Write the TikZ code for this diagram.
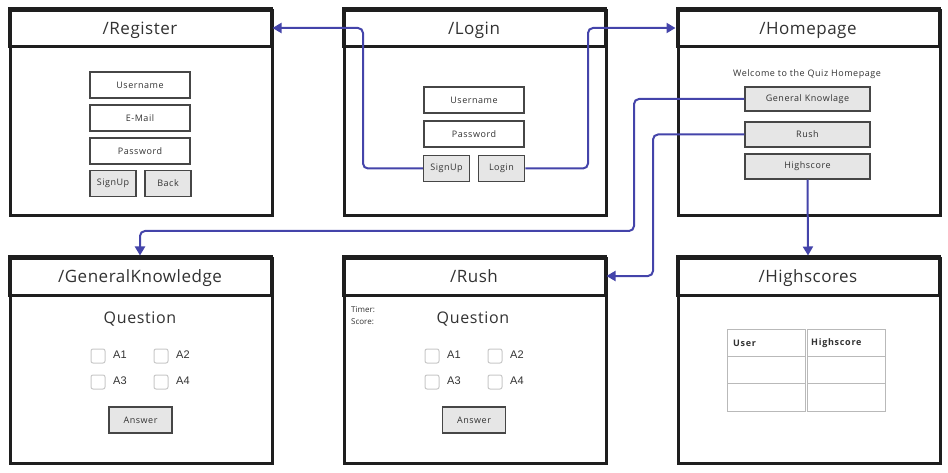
\documentclass[tikz,border=0pt]{standalone}
\usepackage{fontspec}
\setmainfont{Open Sans}
\newfontfamily\arialfont{Liberation Sans}
\newfontfamily\smallspaced[LetterSpace=6]{Open Sans}
\newfontfamily\boldspaced[LetterSpace=8]{Open Sans}
\newfontfamily\bigspaced[LetterSpace=3]{Open Sans}
\newfontfamily\qspaced[LetterSpace=4]{Open Sans}
\usetikzlibrary{arrows.meta}
\definecolor{conncol}{RGB}{68,68,170}
\definecolor{winline}{RGB}{30,30,30}
\definecolor{txt}{RGB}{50,50,50}
\definecolor{btnfill}{RGB}{230,230,230}
\definecolor{boxline}{RGB}{70,70,70}
\definecolor{cbline}{RGB}{200,200,200}
\definecolor{tabline}{RGB}{185,185,185}
\tikzset{
  winbody/.style={draw=winline, line width=3pt, fill=white, minimum width=262pt, minimum height=205pt, anchor=north west, inner sep=0pt},
  winhead/.style={draw=winline, line width=3pt, minimum width=262pt, minimum height=38pt, inner sep=0pt, text height=14pt, text depth=1pt, text=txt, font=\bigspaced\fontsize{17}{20}\selectfont},
  field/.style={draw=boxline, line width=1.5pt, minimum width=100pt, minimum height=26pt, inner sep=0pt, text=txt, font=\smallspaced\fontsize{9}{11}\selectfont},
  btn/.style={field, fill=btnfill, minimum width=46pt},
  hbtn/.style={field, fill=btnfill, minimum width=125pt, minimum height=24pt},
  cbox/.style={draw=cbline, line width=1pt, rounded corners=2pt, minimum size=14pt, inner sep=0pt},
  albl/.style={anchor=west, inner sep=0pt, text=txt, font=\arialfont\fontsize{11}{13}\selectfont},
  qlbl/.style={text=txt, font=\qspaced\fontsize{16}{19}\selectfont},
  cell/.style={draw=tabline, line width=1pt, minimum width=78pt, minimum height=27.3pt, inner sep=0pt},
  celltxt/.style={anchor=west, inner sep=0pt, text=txt, font=\boldspaced\bfseries\fontsize{9}{11}\selectfont},
  small/.style={anchor=west, inner sep=0pt, text=txt, font=\fontsize{8}{10}\selectfont},
  conn/.style={draw=conncol, line width=2pt, rounded corners=5pt, -{Triangle[length=9pt,width=10pt]}},
}
\begin{document}
\begin{tikzpicture}[x=1pt,y=-1pt]
\useasboundingbox (0,0) rectangle (948,473);
% windows
\node[winbody] (reg) at (9,9) {};
\node[winhead] (regT) at (140,28) {/Register};
\node[winbody] (login) at (343,9) {};
\node[winhead] (loginT) at (474,28) {/Login};
\node[winbody] (home) at (677,9) {};
\node[winhead] (homeT) at (808,28) {/Homepage};
\node[winbody] (gk) at (9,257) {};
\node[winhead] (gkT) at (140,276) {/GeneralKnowledge};
\node[winbody] (rush) at (343,257) {};
\node[winhead] (rushT) at (474,276) {/Rush};
\node[winbody] (hs) at (677,257) {};
\node[winhead] (hsT) at (808,276) {/Highscores};
% register
\node[field] (ruser) at (140,85) {Username};
\node[field] (rmail) at (140,118) {E-Mail};
\node[field] (rpass) at (140,151) {Password};
\node[btn] (rsign) at (113,183.5) {SignUp};
\node[btn] (rback) at (168,183.5) {Back};
% login
\node[field] (luser) at (474,100) {Username};
\node[field] (lpass) at (474,134) {Password};
\node[btn] (lsign) at (446.5,168.5) {SignUp};
\node[btn] (llog) at (501.5,168.5) {Login};
% homepage
\node[text=txt, font=\smallspaced\fontsize{9}{11}\selectfont] (welcome) at (807,74) {Welcome to the Quiz Homepage};
\node[hbtn] (hgk) at (807.5,99) {General Knowlage};
\node[hbtn, minimum height=25pt] (hrush) at (807.5,134.5) {Rush};
\node[hbtn, minimum height=25pt] (hhs) at (807.5,166.5) {Highscore};
% general knowledge
\node[qlbl] (gkq) at (140,319) {Question};
\node[cbox] (gkc1) at (98,356) {};
\node[cbox] (gkc2) at (161,356) {};
\node[cbox] (gkc3) at (98,382) {};
\node[cbox] (gkc4) at (161,382) {};
\node[albl] (gka1) at (113,355) {A1};
\node[albl] (gka2) at (176,355) {A2};
\node[albl] (gka3) at (113,381) {A3};
\node[albl] (gka4) at (176,381) {A4};
\node[btn, minimum width=63pt] (gkans) at (140.5,420) {Answer};
% rush
\node[small] (timer) at (351,310) {Timer:};
\node[small] (score) at (351,322) {Score:};
\node[qlbl] (rq) at (473,319) {Question};
\node[cbox] (rc1) at (432,356) {};
\node[cbox] (rc2) at (495,356) {};
\node[cbox] (rc3) at (432,382) {};
\node[cbox] (rc4) at (495,382) {};
\node[albl] (ra1) at (447,355) {A1};
\node[albl] (ra2) at (510,355) {A2};
\node[albl] (ra3) at (447,381) {A3};
\node[albl] (ra4) at (510,381) {A4};
\node[btn, minimum width=63pt] (rans) at (474,420) {Answer};
% highscores table
\node[cell] (t11) at (766,343) {};
\node[cell] (t12) at (846.5,343) {};
\node[cell] (t21) at (766,370.3) {};
\node[cell] (t22) at (846.5,370.3) {};
\node[cell] (t31) at (766,397.6) {};
\node[cell] (t32) at (846.5,397.6) {};
\node[celltxt] (tu) at (733,343) {User};
\node[celltxt] (th) at (811,343) {Highscore};
% connectors
\coordinate (c1) at (363,28);
\coordinate (c2) at (588,28);
\coordinate (c3) at (634,231);
\coordinate (c4) at (653,276);
\draw[conn] (lsign.west) -| (c1) -- (regT.east);
\draw[conn] (llog.east) -| (c2) -- (homeT.west);
\draw[conn] (hgk.west) -| (c3) -| (gkT.north);
\draw[conn] (hrush.west) -| (c4) -- (rushT.east);
\draw[conn] (hhs.south) -- (hsT.north);
\end{tikzpicture}
\end{document}
